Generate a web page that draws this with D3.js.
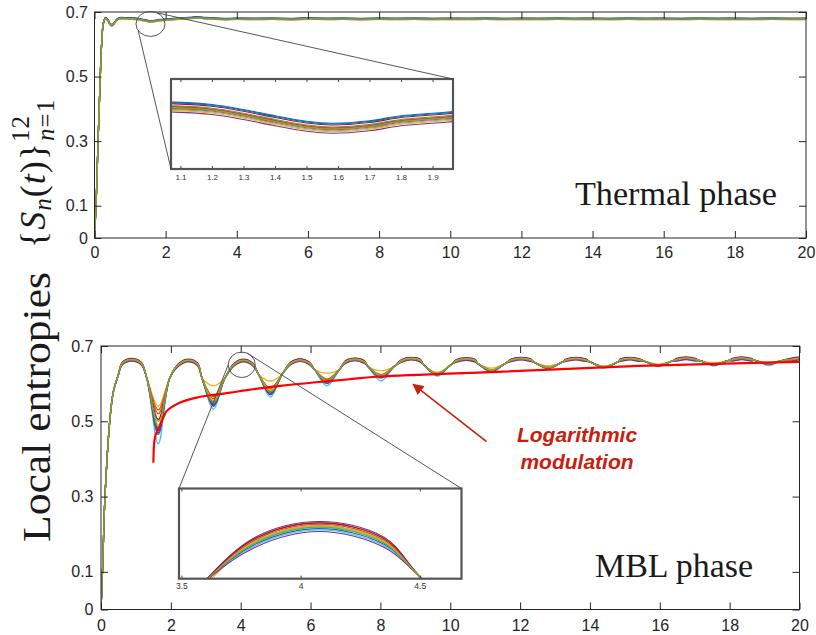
<!DOCTYPE html>
<html>
<head>
<meta charset="utf-8">
<script src="https://cdn.jsdelivr.net/npm/d3@7"></script>
<style>
  body { margin: 0; background: #fff; }
  svg { display: block; font-family: "Liberation Sans", Arial, sans-serif; }
</style>
</head>
<body>
<div id="viz"></div>
<script>
// MATLAB default colour order, the 12 sites cycle through it
const colors = ["#0072BD", "#D95319", "#EDB120", "#7E2F8E", "#77AC30", "#4DBEEE",
  "#A2142F", "#0072BD", "#D95319", "#EDB120", "#7E2F8E", "#77AC30"];

const xTicks = [0, 2, 4, 6, 8, 10, 12, 14, 16, 18, 20];
const yTicks = [0, 0.1, 0.3, 0.5, 0.7];
const insetTopTicks = [1.1, 1.2, 1.3, 1.4, 1.5, 1.6, 1.7, 1.8, 1.9];
const insetBotTicks = [3.5, 4, 4.5];

// ---- thermal phase: common curve + small per-site offsets
const thermT = [0, 0.05, 0.1, 0.15, 0.2, 0.25, 0.31, 0.38, 0.44, 0.5, 0.57, 0.65, 0.75, 0.9,
  1.07, 1.2, 1.3, 1.4, 1.5, 1.58, 1.7, 1.8, 1.9, 2.0, 2.2, 2.5, 2.7, 2.9, 3.1, 3.4, 3.7, 4.0,
  4.5, 5, 5.5, 6, 6.5, 7, 7.5, 8, 8.5, 9, 9.5, 10, 10.5, 11, 11.5, 12, 12.5, 13, 13.5, 14,
  14.5, 15, 15.5, 16, 16.5, 17, 17.5, 18, 18.5, 19, 19.5, 20];
const thermS = [0, 0.12, 0.3, 0.46, 0.6, 0.665, 0.681, 0.674, 0.662, 0.659, 0.668, 0.678, 0.681, 0.680,
  0.6795, 0.6785, 0.6765, 0.674, 0.6718, 0.671, 0.672, 0.674, 0.675, 0.676, 0.678, 0.680, 0.6815, 0.683, 0.681, 0.679, 0.678, 0.679,
  0.6785, 0.679, 0.678, 0.6795, 0.6785, 0.679, 0.678, 0.679, 0.6785, 0.679, 0.6782, 0.6788, 0.6785, 0.679, 0.6782, 0.6788,
  0.6785, 0.679, 0.6785, 0.6788, 0.6782, 0.679, 0.6785, 0.6788, 0.6783, 0.6789, 0.6785, 0.6788, 0.6784, 0.6789, 0.6785, 0.6787];
const thermOffset = [0.002, 0.0005, -0.0003, -0.002, 0.0002, -0.001, 0.0013, 0.0017, -0.0006, -0.0014, 0.0, -0.0002];

// ---- MBL phase: rise, peaks (with shoulders), dips (per site) with their shoulders
const riseT = [0, 0.05, 0.1, 0.16, 0.25, 0.35, 0.5];
const riseS = [0, 0.12, 0.27, 0.38, 0.5, 0.577, 0.625];
const peakT = [0.88, 2.5, 4.08, 5.7, 7.27, 8.88, 10.45, 12.03, 13.6, 15.15, 16.75, 18.35, 20];
const peakS = [0.663, 0.661, 0.661, 0.662, 0.664, 0.666, 0.665, 0.666, 0.666, 0.666, 0.667, 0.667, 0.667];
const peakDrop = [0.01, 0.011, 0.011, 0.009, 0.007, 0.006, 0.005, 0.004, 0.004, 0.004, 0.004, 0.004, 0.004];
const peakHalfWidth = 0.27;
const peakOffset = [0.001, 0.003, 0.002, 0.004, 0.0, -0.002, 0.003, -0.001, 0.002, 0.001, -0.003, 0.0];
const dipT = [1.64, 3.22, 4.85, 6.47, 8.02, 9.63, 11.18, 12.8, 14.4, 15.95, 17.55, 19.12];
const dipShoulder = [0.615, 0.615, 0.625, 0.638, 0.646, 0.651, 0.654, 0.657, 0.658, 0.66, 0.661, 0.662];
const dipHalfWidth = [0.33, 0.33, 0.34, 0.36, 0.38, 0.4, 0.4, 0.4, 0.4, 0.4, 0.4, 0.4];
const dipS = [
  [0.475, 0.545, 0.575, 0.603, 0.618, 0.624, 0.634, 0.642, 0.644, 0.648, 0.650, 0.652],
  [0.520, 0.560, 0.585, 0.610, 0.622, 0.626, 0.636, 0.643, 0.645, 0.649, 0.651, 0.653],
  [0.540, 0.594, 0.607, 0.628, 0.634, 0.630, 0.641, 0.647, 0.647, 0.652, 0.655, 0.656],
  [0.480, 0.550, 0.578, 0.606, 0.620, 0.625, 0.635, 0.642, 0.644, 0.648, 0.651, 0.652],
  [0.500, 0.552, 0.580, 0.605, 0.620, 0.626, 0.636, 0.643, 0.645, 0.649, 0.651, 0.653],
  [0.440, 0.532, 0.564, 0.594, 0.607, 0.620, 0.630, 0.639, 0.641, 0.645, 0.647, 0.648],
  [0.505, 0.548, 0.576, 0.606, 0.619, 0.625, 0.634, 0.642, 0.644, 0.648, 0.650, 0.652],
  [0.465, 0.540, 0.570, 0.600, 0.615, 0.623, 0.633, 0.641, 0.643, 0.647, 0.649, 0.651],
  [0.530, 0.565, 0.588, 0.612, 0.624, 0.627, 0.637, 0.644, 0.645, 0.650, 0.652, 0.654],
  [0.490, 0.556, 0.582, 0.607, 0.621, 0.626, 0.636, 0.643, 0.645, 0.649, 0.651, 0.653],
  [0.470, 0.542, 0.572, 0.602, 0.617, 0.624, 0.633, 0.641, 0.643, 0.647, 0.649, 0.651],
  [0.485, 0.548, 0.577, 0.604, 0.619, 0.625, 0.635, 0.642, 0.644, 0.648, 0.650, 0.652]
];

// logarithmic envelope (red)
const logT = [1.5, 1.52, 1.56, 1.64, 1.79, 1.88, 2.27, 2.74, 3.21, 3.7, 4.18, 5.14, 6.08, 7.05, 8.0, 11.5, 15.4, 20];
const logS = [0.39, 0.44, 0.463, 0.479, 0.511, 0.527, 0.55, 0.563, 0.57, 0.576, 0.583, 0.594, 0.603, 0.611, 0.619, 0.632, 0.647, 0.658];

const thermal = colors.map((c, s) => thermT.map((t, i) => [t, thermS[i] + thermOffset[s]]));
const mbl = colors.map((c, s) => {
  let pts = riseT.map((t, i) => [t, riseS[i]]);
  peakT.forEach((t, k) => {
    let top = peakS[k] + peakOffset[s];
    pts.push([t - peakHalfWidth, top - peakDrop[k]]);
    pts.push([t, top]);
    if (t + peakHalfWidth <= 20) pts.push([t + peakHalfWidth, top - peakDrop[k]]);
  });
  dipT.forEach((t, k) => {
    pts.push([t - dipHalfWidth[k], dipShoulder[k]]);
    pts.push([t, dipS[s][k]]);
    pts.push([t + dipHalfWidth[k], dipShoulder[k]]);
  });
  return pts.sort((a, b) => a[0] - b[0]);
});
const logData = logT.map((t, i) => [t, logS[i]]);

const svg = d3.select("#viz").append("svg").attr("width", 816).attr("height", 635);
const ink = "#262626";

function drawPanel(id, box, series, pad) {
  let x = d3.scaleLinear().domain([0, 20]).range([box.left, box.right]);
  let y = d3.scaleLinear().domain([0, 0.7]).range([box.bottom, box.top]);
  let g = svg.append("g");
  g.append("clipPath").attr("id", id).append("rect")
    .attr("x", box.left).attr("y", box.top)
    .attr("width", box.right - box.left).attr("height", box.bottom - box.top);

  let line = d3.line().x((d) => x(d[0])).y((d) => y(d[1])).curve(d3.curveCatmullRom.alpha(0.5));
  g.append("g").attr("clip-path", `url(#${id})`)
    .selectAll("path").data(series).join("path")
    .attr("d", line).attr("fill", "none")
    .attr("stroke", (d, i) => colors[i]).attr("stroke-width", 1.3);

  let axes = [
    [d3.axisBottom(x).tickValues(xTicks).tickFormat((d) => d), `translate(0,${box.bottom})`, pad.x],
    [d3.axisTop(x).tickValues(xTicks).tickFormat(""), `translate(0,${box.top})`, 0],
    [d3.axisLeft(y).tickValues(yTicks).tickFormat((d) => d), `translate(${box.left},0)`, pad.y],
    [d3.axisRight(y).tickValues(yTicks).tickFormat(""), `translate(${box.right},0)`, 0]
  ];
  axes.forEach(([ax, tr, p]) => {
    let a = g.append("g").attr("transform", tr)
      .call(ax.tickSize(-7).tickPadding(p));
    a.select(".domain").remove();
    a.selectAll("line").attr("stroke", ink);
    a.selectAll("text").attr("fill", ink).attr("font-size", 16)
      .attr("font-family", "Liberation Sans, Arial, sans-serif");
  });
  g.append("rect").attr("x", box.left).attr("y", box.top)
    .attr("width", box.right - box.left).attr("height", box.bottom - box.top)
    .attr("fill", "none").attr("stroke", ink).attr("stroke-width", 1);
  return { x, y, g, line };
}

function drawInset(id, box, xDom, yDom, ticks, series, fontSize, lift) {
  let x = d3.scaleLinear().domain(xDom).range([box.x0, box.x1]);
  let y = d3.scaleLinear().domain(yDom).range([box.y1, box.y0]);
  let g = svg.append("g");
  g.append("rect").attr("x", box.x0).attr("y", box.y0)
    .attr("width", box.x1 - box.x0).attr("height", box.y1 - box.y0).attr("fill", "#fff");
  g.append("clipPath").attr("id", id).append("rect")
    .attr("x", box.x0).attr("y", box.y0)
    .attr("width", box.x1 - box.x0).attr("height", box.y1 - box.y0);
  let line = d3.line().x((d) => x(d[0])).y((d) => y(d[1])).curve(d3.curveCatmullRom.alpha(0.5));
  g.append("g").attr("clip-path", `url(#${id})`)
    .selectAll("path").data(series).join("path")
    .attr("d", line).attr("fill", "none")
    .attr("stroke", (d, i) => colors[i]).attr("stroke-width", 1.1);

  let bottom = g.append("g").attr("transform", `translate(0,${box.y1})`)
    .call(d3.axisBottom(x).tickValues(ticks).tickFormat((d) => d).tickSize(-3).tickPadding(lift));
  let top = g.append("g").attr("transform", `translate(0,${box.y0})`)
    .call(d3.axisTop(x).tickValues(ticks).tickFormat("").tickSize(-3));
  [bottom, top].forEach((a) => {
    a.select(".domain").remove();
    a.selectAll("line").attr("stroke", "#444");
    a.selectAll("text").attr("fill", "#333").attr("font-size", fontSize);
  });
  g.append("rect").attr("x", box.x0).attr("y", box.y0)
    .attr("width", box.x1 - box.x0).attr("height", box.y1 - box.y0)
    .attr("fill", "none").attr("stroke", "#555").attr("stroke-width", 2.2);
}

// zoom marker: ellipse in data units + two connectors to inset corners
function zoomMark(p, mark, corners) {
  let cx = p.x(mark.t), cy = p.y(mark.s);
  let rx = p.x(mark.t + mark.rt) - cx, ry = p.y(mark.s) - p.y(mark.s + mark.rs);
  svg.append("ellipse").attr("cx", cx).attr("cy", cy).attr("rx", rx).attr("ry", ry)
    .attr("fill", "none").attr("stroke", "#444").attr("stroke-width", 0.9);
  corners.forEach(([a, px, py]) => {
    let r = (a * Math.PI) / 180;
    svg.append("line")
      .attr("x1", cx + rx * Math.cos(r)).attr("y1", cy + ry * Math.sin(r))
      .attr("x2", px).attr("y2", py)
      .attr("stroke", "#444").attr("stroke-width", 0.9);
  });
}

// ---------- top: thermal
const topBox = { left: 94.5, right: 806, top: 12, bottom: 238 };
const pTop = drawPanel("clipTop", topBox, thermal, { x: 9, y: 6.5 });
const insTop = { x0: 171, x1: 453, y0: 79, y1: 169 };
drawInset("clipInsTop", insTop, [1.07, 1.965], [0.6547, 0.6907], insetTopTicks, thermal, 8, 5);
zoomMark(pTop, { t: 1.574, s: 0.663, rt: 0.408, rs: 0.0387 },
  [[148, insTop.x0, insTop.y1], [-63, insTop.x1, insTop.y0]]);

svg.append("text").attr("x", 575).attr("y", 205)
  .attr("font-family", "Liberation Serif, Times New Roman, serif").attr("font-size", 33)
  .attr("fill", "#1a1a1a").attr("textLength", 202).attr("lengthAdjust", "spacingAndGlyphs")
  .text("Thermal phase");

// ---------- bottom: MBL
const botBox = { left: 101, right: 799.5, top: 346, bottom: 609.5 };
const pBot = drawPanel("clipBot", botBox, mbl, { x: 10, y: 7.5 });
pBot.g.append("path").datum(logData).attr("clip-path", "url(#clipBot)")
  .attr("d", pBot.line).attr("fill", "none")
  .attr("stroke", "#ff0000").attr("stroke-width", 2.2);

const insBot = { x0: 179, x1: 461.5, y0: 488.5, y1: 578.7 };
drawInset("clipInsBot", insBot, [3.49, 4.675], [0.625, 0.688], insetBotTicks, mbl, 8.5, 4);
zoomMark(pBot, { t: 4.03, s: 0.65, rt: 0.387, rs: 0.0338 },
  [[180, insBot.x0, insBot.y0], [-65.5, insBot.x1, insBot.y0]]);

svg.append("text").attr("x", 595).attr("y", 577)
  .attr("font-family", "Liberation Serif, Times New Roman, serif").attr("font-size", 33)
  .attr("fill", "#1a1a1a").attr("textLength", 158).attr("lengthAdjust", "spacingAndGlyphs")
  .text("MBL phase");

// arrow + annotation
const red = "#c8200e";
svg.append("defs").append("marker").attr("id", "head")
  .attr("viewBox", "0 0 10 10").attr("refX", 9).attr("refY", 5)
  .attr("markerWidth", 7).attr("markerHeight", 7).attr("orient", "auto")
  .append("path").attr("d", "M0,0 L10,5 L0,10 z").attr("fill", red);
svg.append("line")
  .attr("x1", pBot.x(11.04)).attr("y1", pBot.y(0.446))
  .attr("x2", pBot.x(8.94)).attr("y2", pBot.y(0.598))
  .attr("stroke", red).attr("stroke-width", 1.6).attr("marker-end", "url(#head)");
svg.selectAll(".anno").data(["Logarithmic", "modulation"]).join("text")
  .attr("class", "anno")
  .attr("x", 577).attr("y", (d, i) => 442 + i * 27)
  .attr("text-anchor", "middle").attr("font-size", 21)
  .attr("font-weight", "bold").attr("font-style", "italic")
  .attr("fill", red).text((d) => d);

// ---------- y labels
svg.append("text").attr("transform", "translate(50,407) rotate(-90)")
  .attr("text-anchor", "middle")
  .attr("font-family", "Liberation Serif, Times New Roman, serif").attr("font-size", 41)
  .attr("fill", "#1a1a1a").attr("textLength", 270).attr("lengthAdjust", "spacingAndGlyphs")
  .text("Local entropies");

const sl = svg.append("text").attr("transform", "translate(45,248) rotate(-90)")
  .attr("font-family", "Liberation Serif, Times New Roman, serif").attr("font-size", 36)
  .attr("letter-spacing", 1).attr("fill", "#1a1a1a");
sl.append("tspan").text("{");
sl.append("tspan").attr("font-style", "italic").text("S");
sl.append("tspan").attr("font-style", "italic").attr("font-size", 25).attr("dy", 6).text("n");
sl.append("tspan").attr("dy", -6).text("(");
sl.append("tspan").attr("font-style", "italic").text("t");
sl.append("tspan").text(")}");
sl.append("tspan").attr("font-size", 25).attr("dy", -16).text("12");
sl.append("tspan").attr("font-size", 25).attr("font-style", "italic").attr("dx", -26).attr("dy", 25).text("n");
sl.append("tspan").attr("font-size", 25).text("=1");
</script>
</body>
</html>
